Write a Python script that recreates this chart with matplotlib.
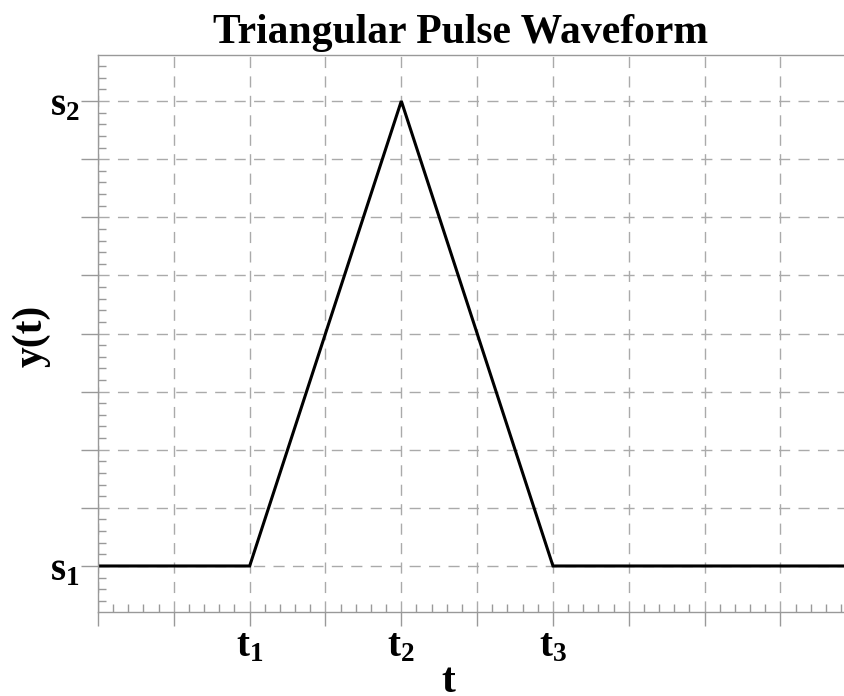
import numpy as np
import matplotlib.pyplot as plt
from matplotlib.ticker import MultipleLocator

plt.rcParams['font.family'] = ['Liberation Serif', 'DejaVu Serif']
plt.rcParams['font.weight'] = 'bold'
plt.rcParams['mathtext.fontset'] = 'custom'
plt.rcParams['mathtext.rm'] = 'Liberation Serif:bold'
plt.rcParams['mathtext.it'] = 'Liberation Serif:bold'
plt.rcParams['mathtext.bf'] = 'Liberation Serif:bold'

# pulso triangular: nivel s1, sobe em t1, pico s2 em t2, volta a s1 em t3
t_pontos = [0, 2, 4, 6, 10]
y_pontos = [1, 1, 9, 1, 1]

x_ticks_major = np.arange(0, 10, 1)
x_rotulos = {2: r'$\mathbf{t}_{\mathbf{1}}$', 4: r'$\mathbf{t}_{\mathbf{2}}$', 6: r'$\mathbf{t}_{\mathbf{3}}$'}
y_ticks_major = np.arange(1, 10, 1)
y_rotulos = {1: r'$\mathbf{s}_{\mathbf{1}}$', 9: r'$\mathbf{s}_{\mathbf{2}}$'}

cinza = '#999999'

fig = plt.figure(figsize=(8.45, 6.96), dpi=100)
ax = fig.add_axes([98 / 845, 84 / 696, 747 / 845, 557 / 696])

ax.plot(t_pontos, y_pontos, color='black', linewidth=2.2, solid_joinstyle='miter')

ax.set_xlim(0, 747 / 75.83)
ax.set_ylim(1 - 46 / 58.1, 9 + 46 / 58.1)

ax.set_xticks(x_ticks_major)
ax.set_xticklabels([x_rotulos.get(int(v), '') for v in x_ticks_major])
ax.set_yticks(y_ticks_major)
ax.set_yticklabels([y_rotulos.get(int(v), '') for v in y_ticks_major])
ax.xaxis.set_minor_locator(MultipleLocator(0.2))
ax.yaxis.set_minor_locator(MultipleLocator(0.2))

ax.tick_params(which='major', direction='out', color=cinza, width=1, labelsize=28)
ax.tick_params(axis='x', which='major', length=10, pad=2)
ax.tick_params(axis='y', which='major', length=12, pad=1)
ax.tick_params(which='minor', direction='in', length=6, color=cinza, width=1)

ax.grid(True, which='major', color='#aaaaaa', linestyle=(0, (8, 6)), linewidth=1)

for lado in ['left', 'top', 'bottom']:
    ax.spines[lado].set_color(cinza)
    ax.spines[lado].set_linewidth(1)
ax.spines['right'].set_visible(False)

ax.set_title('Triangular Pulse Waveform', fontsize=30, fontweight='bold', x=0.486, pad=9)
ax.set_xlabel('t', fontsize=30, fontweight='bold')
ax.xaxis.set_label_coords(0.4685, -0.092)
ax.set_ylabel('y(t)', fontsize=30, fontweight='bold')
ax.yaxis.set_label_coords(-0.063, 0.496)

fig.savefig('out.png', dpi=100)
